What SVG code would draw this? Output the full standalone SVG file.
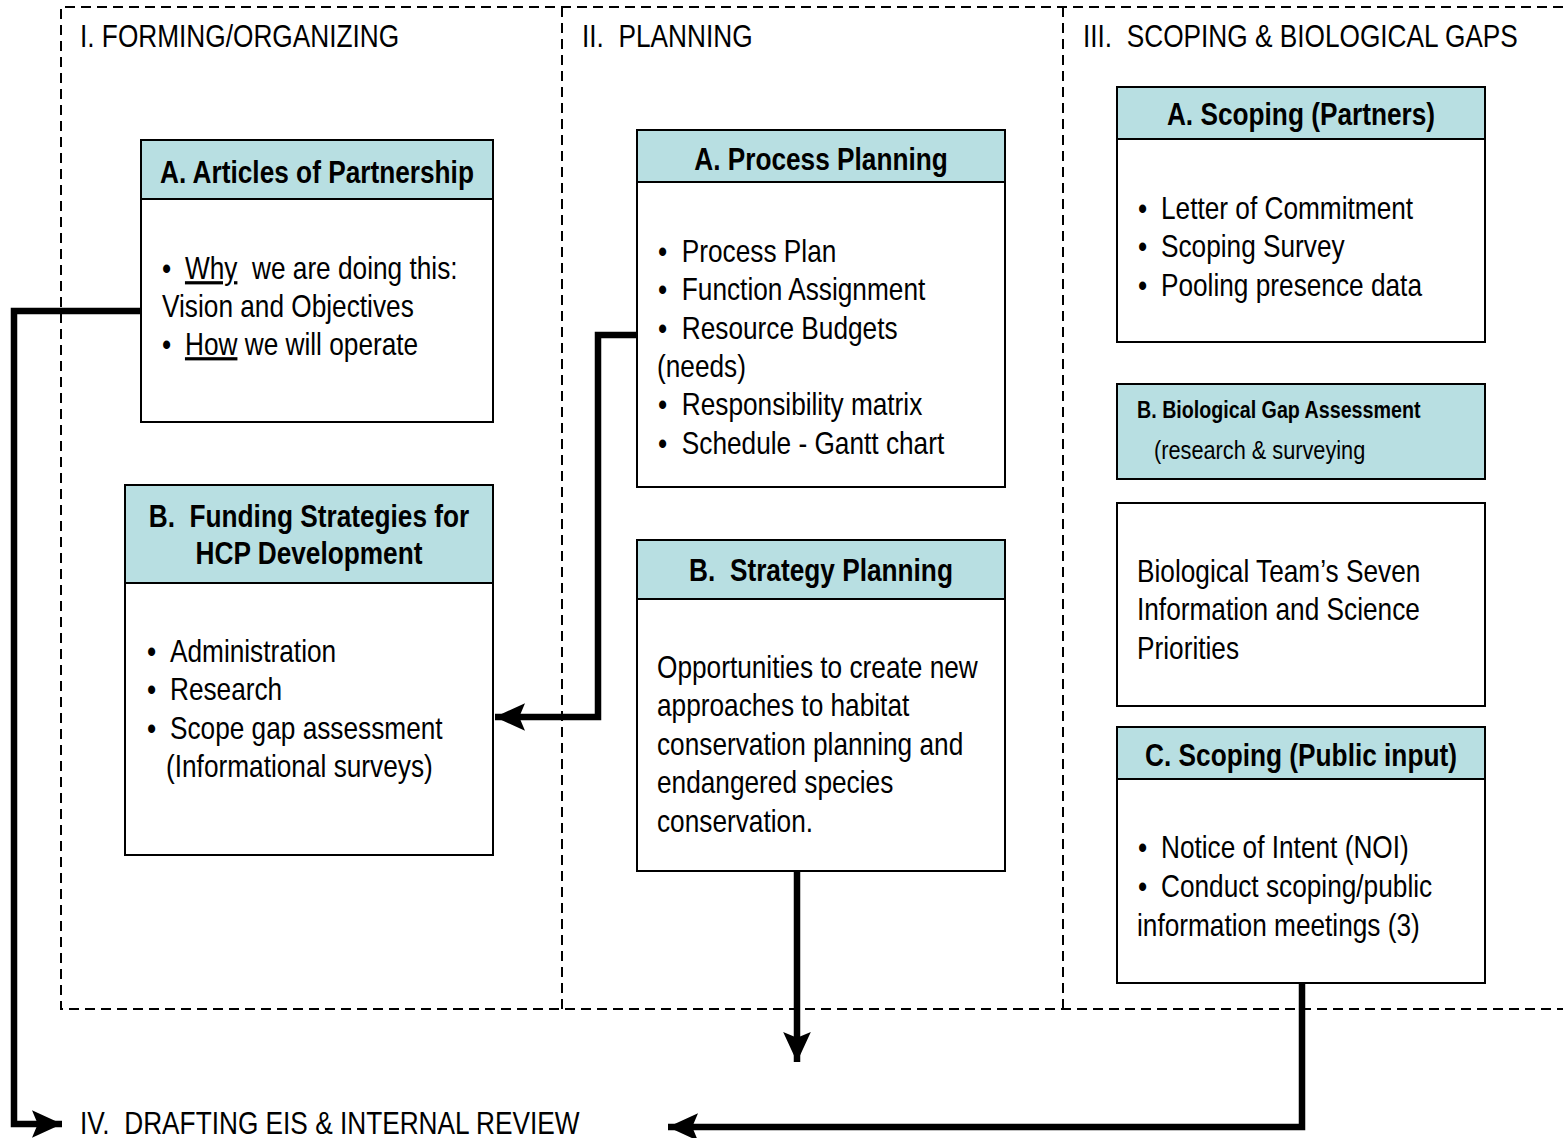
<svg xmlns="http://www.w3.org/2000/svg" width="1563" height="1138" viewBox="0 0 1563 1138">
<defs>
<style>
text{font-family:"Liberation Sans",Arial,sans-serif;fill:#000;font-size:32px}
.ttl{font-weight:bold}
.box{fill:#fff;stroke:#000;stroke-width:2}
.hdr{fill:#b8dfe2;stroke:#000;stroke-width:2}
.frame{fill:none;stroke:#000;stroke-width:2;stroke-dasharray:10,6}
.conn{fill:none;stroke:#000;stroke-width:6.5}
.u{text-decoration:underline}
</style>
<marker id="ah" markerUnits="userSpaceOnUse" markerWidth="30" markerHeight="30" viewBox="0 0 26 24" refX="26" refY="12" orient="auto">
<path d="M0,0 L26,12 L0,24 L5,12 Z" fill="#000"/>
</marker>
</defs>
<rect width="1563" height="1138" fill="#fff"/>
<g id="frame">
<path class="frame" d="M1563,7 H61 V1009 H1563 M562,7 V1009 M1063,7 V1009"/>
<text transform="matrix(0.82,0,0,1,80,47)">I. FORMING/ORGANIZING</text>
<text transform="matrix(0.82,0,0,1,582,47)" xml:space="preserve">II.  PLANNING</text>
<text transform="matrix(0.82,0,0,1,1083,47)" xml:space="preserve">III.  SCOPING &amp; BIOLOGICAL GAPS</text>
<text transform="matrix(0.82,0,0,1,80,1134)" xml:space="preserve">IV.  DRAFTING EIS &amp; INTERNAL REVIEW</text>
</g>
<g id="connectors">
<path class="conn" d="M141,311 H14 V1124 H62" marker-end="url(#ah)"/>
<path class="conn" d="M637,335 H598 V717 H495" marker-end="url(#ah)"/>
<path class="conn" d="M797,871 V1062" marker-end="url(#ah)"/>
<path class="conn" d="M1302,983 V1127 H668" marker-end="url(#ah)"/>
</g>
<g id="articles">
<rect class="box" x="141" y="140" width="352" height="282"/>
<rect class="hdr" x="141" y="140" width="352" height="59"/>
<text class="ttl" text-anchor="middle" transform="matrix(0.82,0,0,1,317,183)">A. Articles of Partnership</text>
<text transform="matrix(0.82,0,0,1,162,279)" xml:space="preserve">•<tspan x="28" class="u">Why</tspan>  we are doing this:</text>
<text transform="matrix(0.82,0,0,1,162,317)">Vision and Objectives</text>
<text transform="matrix(0.82,0,0,1,162,355)">•<tspan x="28" class="u">How</tspan> we will operate</text>
</g>
<g id="funding">
<rect class="box" x="125" y="485" width="368" height="370"/>
<rect class="hdr" x="125" y="485" width="368" height="98"/>
<text class="ttl" text-anchor="middle" transform="matrix(0.82,0,0,1,309,527)" xml:space="preserve">B.  Funding Strategies for</text>
<text class="ttl" text-anchor="middle" transform="matrix(0.82,0,0,1,309,564)">HCP Development</text>
<text transform="matrix(0.82,0,0,1,147,662)">•<tspan x="28">Administration</tspan></text>
<text transform="matrix(0.82,0,0,1,147,700)">•<tspan x="28">Research</tspan></text>
<text transform="matrix(0.82,0,0,1,147,739)">•<tspan x="28">Scope gap assessment</tspan></text>
<text transform="matrix(0.82,0,0,1,166,777)">(Informational surveys)</text>
</g>
<g id="process">
<rect class="box" x="637" y="130" width="368" height="357"/>
<rect class="hdr" x="637" y="130" width="368" height="52"/>
<text class="ttl" text-anchor="middle" transform="matrix(0.82,0,0,1,821,170)">A. Process Planning</text>
<text transform="matrix(0.82,0,0,1,658,262)">•<tspan x="29">Process Plan</tspan></text>
<text transform="matrix(0.82,0,0,1,658,300)">•<tspan x="29">Function Assignment</tspan></text>
<text transform="matrix(0.82,0,0,1,658,339)">•<tspan x="29">Resource Budgets</tspan></text>
<text transform="matrix(0.82,0,0,1,657,377)">(needs)</text>
<text transform="matrix(0.82,0,0,1,658,415)">•<tspan x="29">Responsibility matrix</tspan></text>
<text transform="matrix(0.82,0,0,1,658,454)">•<tspan x="29">Schedule - Gantt chart</tspan></text>
</g>
<g id="strategy">
<rect class="box" x="637" y="540" width="368" height="331"/>
<rect class="hdr" x="637" y="540" width="368" height="59"/>
<text class="ttl" text-anchor="middle" transform="matrix(0.82,0,0,1,821,581)" xml:space="preserve">B.  Strategy Planning</text>
<text transform="matrix(0.82,0,0,1,657,678)">Opportunities to create new</text>
<text transform="matrix(0.82,0,0,1,657,716)">approaches to habitat</text>
<text transform="matrix(0.82,0,0,1,657,755)">conservation planning and</text>
<text transform="matrix(0.82,0,0,1,657,793)">endangered species</text>
<text transform="matrix(0.82,0,0,1,657,832)">conservation.</text>
</g>
<g id="scoping-partners">
<rect class="box" x="1117" y="87" width="368" height="255"/>
<rect class="hdr" x="1117" y="87" width="368" height="52"/>
<text class="ttl" text-anchor="middle" transform="matrix(0.82,0,0,1,1301,125)">A. Scoping (Partners)</text>
<text transform="matrix(0.82,0,0,1,1138,219)">•<tspan x="28">Letter of Commitment</tspan></text>
<text transform="matrix(0.82,0,0,1,1138,257)">•<tspan x="28">Scoping Survey</tspan></text>
<text transform="matrix(0.82,0,0,1,1138,296)">•<tspan x="28">Pooling presence data</tspan></text>
</g>
<g id="gap-assessment">
<rect class="hdr" x="1117" y="384" width="368" height="95"/>
<text class="ttl" transform="matrix(0.82,0,0,1,1137,418)" style="font-size:24px">B. Biological Gap Assessment</text>
<text transform="matrix(0.82,0,0,1,1154,459)" style="font-size:26.5px">(research &amp; surveying</text>
</g>
<g id="bio-team">
<rect class="box" x="1117" y="503" width="368" height="203"/>
<text transform="matrix(0.82,0,0,1,1137,582)">Biological Team’s Seven</text>
<text transform="matrix(0.82,0,0,1,1137,620)">Information and Science</text>
<text transform="matrix(0.82,0,0,1,1137,659)">Priorities</text>
</g>
<g id="scoping-public">
<rect class="box" x="1117" y="727" width="368" height="256"/>
<rect class="hdr" x="1117" y="727" width="368" height="52"/>
<text class="ttl" text-anchor="middle" transform="matrix(0.82,0,0,1,1301,766)">C. Scoping (Public input)</text>
<text transform="matrix(0.82,0,0,1,1138,858)">•<tspan x="28">Notice of Intent (NOI)</tspan></text>
<text transform="matrix(0.82,0,0,1,1138,897)">•<tspan x="28">Conduct scoping/public</tspan></text>
<text transform="matrix(0.82,0,0,1,1137,936)">information meetings (3)</text>
</g>
</svg>
